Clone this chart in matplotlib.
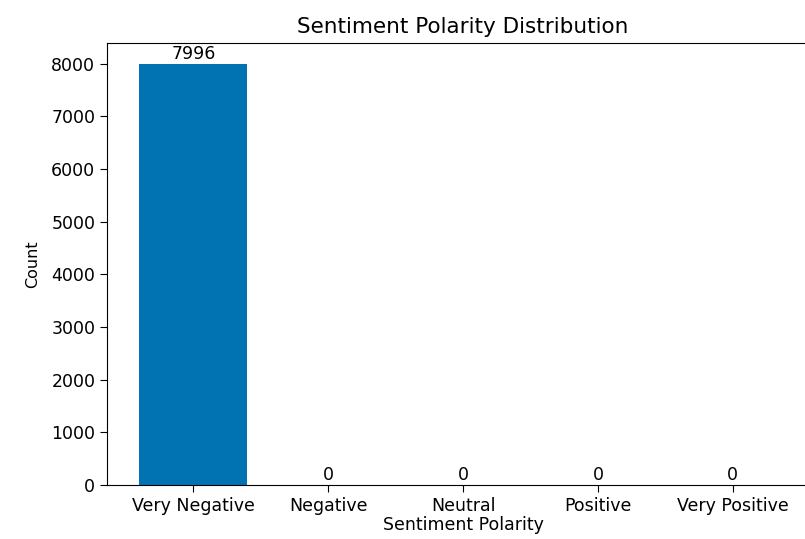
import matplotlib
matplotlib.use("Agg")
import matplotlib.pyplot as plt

# Sentiment class counts
categories = ["Very Negative", "Negative", "Neutral", "Positive", "Very Positive"]
counts = [7996, 0, 0, 0, 0]

fig = plt.figure(figsize=(8.05, 5.39), dpi=100)
# axes runs slightly past the right edge, as in the cropped original
ax = fig.add_axes([0.133, 0.1002, 0.8845, 0.82])

bars = ax.bar(categories, counts, color="#0173B2", width=0.8)
ax.bar_label(bars, padding=1, fontsize=12.5)

ax.set_title("Sentiment Polarity Distribution", fontsize=15.5, pad=7)
ax.set_xlabel("Sentiment Polarity", fontsize=12.5, labelpad=1)
ax.set_ylabel("Count", fontsize=11.5, labelpad=8)
ax.tick_params(axis="both", labelsize=12.5, length=5)

fig.savefig("out.png", dpi=100)
